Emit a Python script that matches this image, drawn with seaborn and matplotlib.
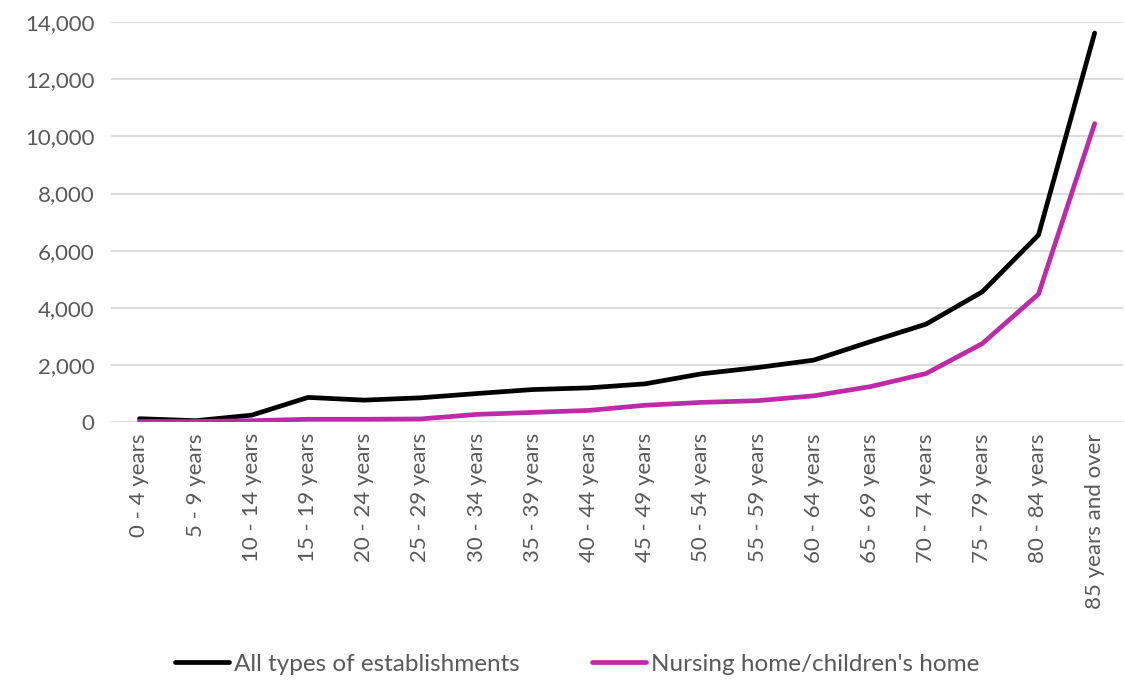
import matplotlib
matplotlib.use("Agg")
import matplotlib.pyplot as plt
import matplotlib.ticker as mticker
import pandas as pd
import seaborn as sns

age_groups = [
    "0 - 4 years", "5 - 9 years", "10 - 14 years", "15 - 19 years",
    "20 - 24 years", "25 - 29 years", "30 - 34 years", "35 - 39 years",
    "40 - 44 years", "45 - 49 years", "50 - 54 years", "55 - 59 years",
    "60 - 64 years", "65 - 69 years", "70 - 74 years", "75 - 79 years",
    "80 - 84 years", "85 years and over",
]
all_establishments = [
    120, 50, 245, 865, 770, 850, 1000, 1140, 1200, 1340,
    1690, 1910, 2170, 2810, 3430, 4560, 6550, 13620,
]
nursing_childrens_home = [
    20, 20, 50, 100, 100, 110, 270, 340, 410, 590,
    690, 750, 920, 1240, 1700, 2750, 4480, 10450,
]
series_names = ["All types of establishments", "Nursing home/children's home"]
series_colors = ["#000000", "#BE2AA8"]
y_ticks = [0, 2000, 4000, 6000, 8000, 10000, 12000, 14000]

df = pd.DataFrame({
    "age": age_groups * 2,
    "pos": list(range(len(age_groups))) * 2,
    "value": all_establishments + nursing_childrens_home,
    "series": [series_names[0]] * len(age_groups) + [series_names[1]] * len(age_groups),
})

sns.set_theme(style="white")
plt.rcParams["font.family"] = ["Lato", "DejaVu Sans"]
text_color = "#595959"

fig = plt.figure(figsize=(11.25, 6.92), dpi=100)
ax = fig.add_axes([0.099, 0.39, 0.899, 0.578])

sns.lineplot(
    data=df, x="pos", y="value", hue="series", hue_order=series_names,
    palette=series_colors, linewidth=3.4, sort=False, ax=ax, legend=True,
)

ax.set_xlim(-0.5, len(age_groups) - 0.5)
ax.set_ylim(0, 14000)
ax.set_yticks(y_ticks)
ax.yaxis.set_major_formatter(mticker.FuncFormatter(lambda v, p: f"{int(v):,}"))
ax.set_xticks(range(len(age_groups)))
ax.set_xticklabels(age_groups, rotation=90)
ax.tick_params(axis="both", length=0, labelsize=16, colors=text_color)
ax.tick_params(axis="y", pad=12)
ax.tick_params(axis="x", pad=8)
ax.set_xlabel("")
ax.set_ylabel("")
ax.grid(axis="y", color="#D9D9D9", linewidth=1.3)
ax.set_axisbelow(True)
for s in ax.spines.values():
    s.set_visible(False)

handles, labels = ax.get_legend_handles_labels()
ax.legend_.remove()
leg = fig.legend(
    handles, labels, loc="center", bbox_to_anchor=(0.513, 0.04), ncol=2,
    frameon=False, fontsize=17.5, handlelength=2.2, handletextpad=0.2,
    columnspacing=3.0, labelcolor=text_color,
)
for line in leg.get_lines():
    line.set_linewidth(3.4)

fig.savefig("out.png", dpi=100)
